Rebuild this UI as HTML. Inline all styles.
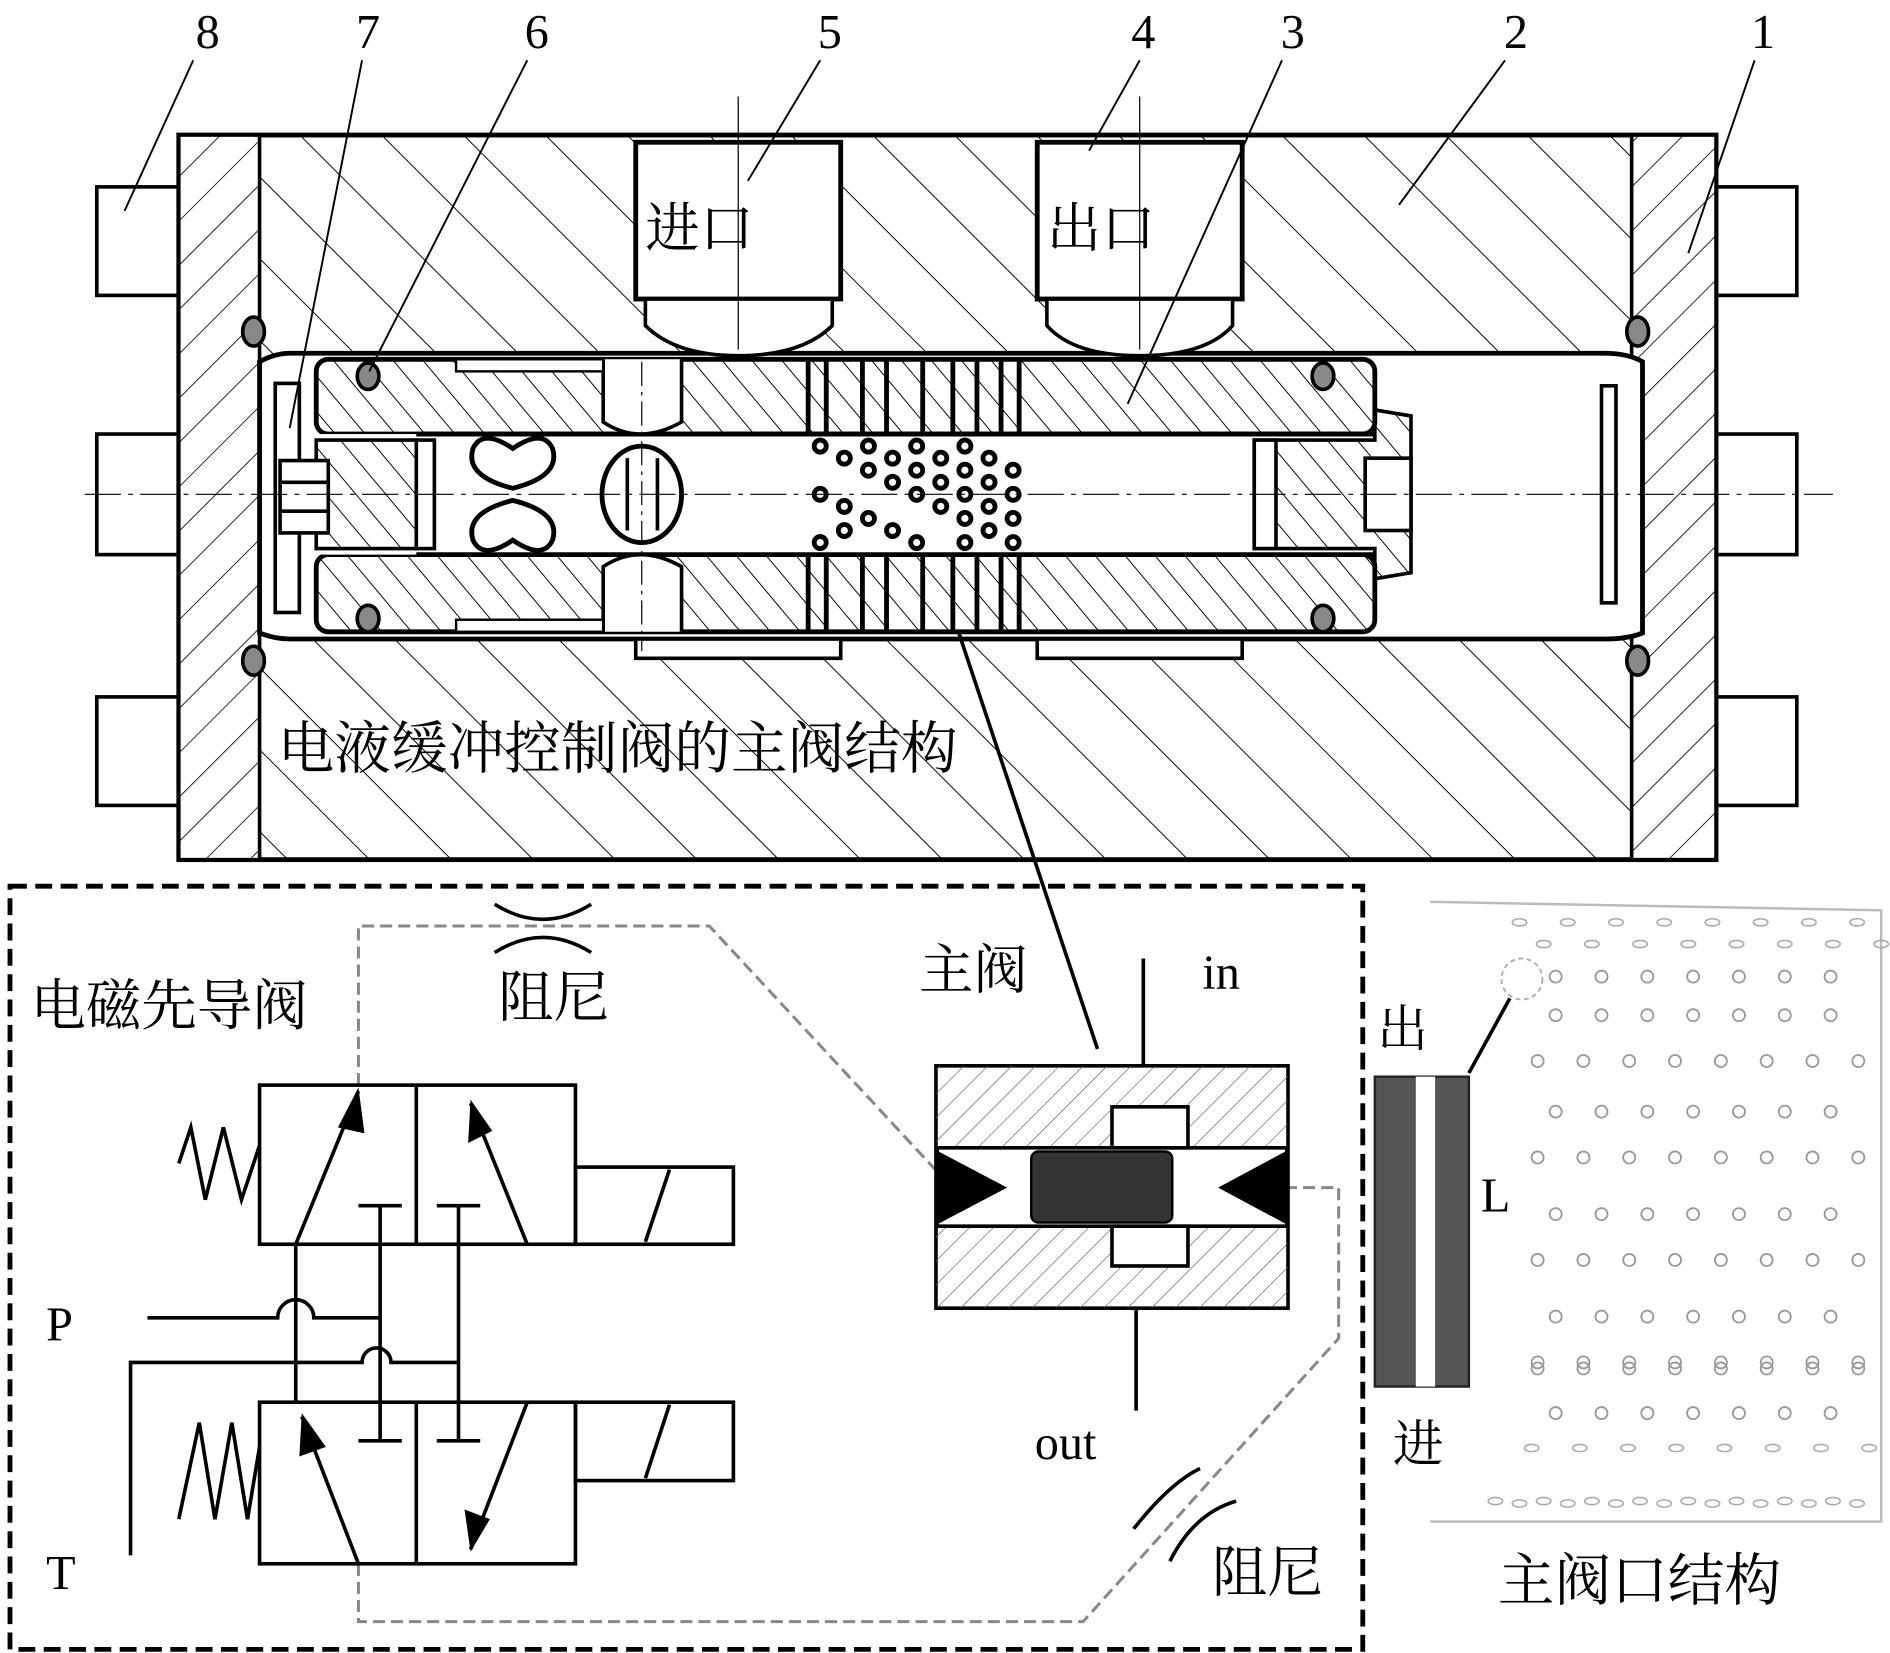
<!DOCTYPE html>
<html><head><meta charset="utf-8"><style>
html,body{margin:0;padding:0;background:#fff}
svg{display:block}
text{font-family:"Liberation Serif","Noto Serif CJK SC","Noto Sans CJK SC",serif;fill:#000}
</style></head><body>
<svg width="1890" height="1653" viewBox="0 0 1567 1371" xmlns="http://www.w3.org/2000/svg">
<defs>
<pattern id="hb" patternUnits="userSpaceOnUse" width="48" height="48" patternTransform="rotate(-45)">
<line x1="0" y1="0" x2="0" y2="48" stroke="#000" stroke-width="1.6"/></pattern>
<pattern id="he" patternUnits="userSpaceOnUse" width="26" height="26" patternTransform="rotate(45)">
<line x1="0" y1="0" x2="0" y2="26" stroke="#000" stroke-width="1.4"/></pattern>
<pattern id="hs" patternUnits="userSpaceOnUse" width="19" height="19" patternTransform="rotate(-40)">
<line x1="0" y1="0" x2="0" y2="19" stroke="#000" stroke-width="1.6"/></pattern>
<pattern id="hv" patternUnits="userSpaceOnUse" width="14" height="14" patternTransform="rotate(45)">
<line x1="0" y1="0" x2="0" y2="14" stroke="#555" stroke-width="1"/></pattern>
</defs>
<rect width="1567" height="1371" fill="#fff"/>

<g fill="#fff" stroke="#000" stroke-width="3">
<rect x="80" y="155" width="68" height="90"/><rect x="80" y="360" width="68" height="100"/><rect x="80" y="578" width="68" height="90"/>
<rect x="1423" y="155" width="67" height="90"/><rect x="1423" y="360" width="67" height="100"/><rect x="1423" y="578" width="67" height="90"/>
</g>
<rect x="148" y="112" width="1275" height="601" fill="url(#hb)" stroke="#000" stroke-width="4"/>
<rect x="148" y="112" width="67" height="601" fill="#fff"/>
<rect x="148" y="112" width="67" height="601" fill="url(#he)" stroke="#000" stroke-width="3"/>
<rect x="1353" y="112" width="70" height="601" fill="#fff"/>
<rect x="1353" y="112" width="70" height="601" fill="url(#he)" stroke="#000" stroke-width="3"/>
<path d="M215 300 Q228 293 240 293 L1330 293 Q1350 293 1362 300 L1362 525 Q1350 530 1330 530 L240 530 Q228 530 215 525 Z" fill="#fff" stroke="#000" stroke-width="4"/>
<rect x="527" y="118" width="170" height="130" fill="#fff" stroke="#000" stroke-width="4"/>
<rect x="860" y="118" width="170" height="130" fill="#fff" stroke="#000" stroke-width="4"/>
<path d="M535 248 L535 270 Q560 295 612 295 Q665 295 690 270 L690 248 Z" fill="#fff" stroke="#000" stroke-width="3"/>
<path d="M868 248 L868 270 Q890 295 945 295 Q1000 295 1022 270 L1022 248 Z" fill="#fff" stroke="#000" stroke-width="3"/>
<rect x="527" y="530" width="170" height="16" fill="#fff" stroke="#000" stroke-width="3"/>
<rect x="860" y="530" width="170" height="16" fill="#fff" stroke="#000" stroke-width="3"/>
<rect x="262" y="298" width="878" height="62" rx="10" fill="#fff" stroke="#000" stroke-width="4"/>
<rect x="262" y="298" width="878" height="62" rx="10" fill="url(#hs)"/>
<rect x="262" y="460" width="878" height="64" rx="10" fill="#fff" stroke="#000" stroke-width="4"/>
<rect x="262" y="460" width="878" height="64" rx="10" fill="url(#hs)"/>
<rect x="265" y="360" width="872" height="100" fill="#fff"/>
<line x1="345" y1="360" x2="1140" y2="360" stroke="#000" stroke-width="4"/>
<line x1="345" y1="460" x2="1140" y2="460" stroke="#000" stroke-width="4"/>
<path d="M500 298 L500 350 Q530 370 565 350 L565 298" fill="#fff" stroke="#000" stroke-width="3"/>
<path d="M500 524 L500 470 Q530 450 565 470 L565 524" fill="#fff" stroke="#000" stroke-width="3"/>
<rect x="378" y="298" width="122" height="10" fill="#fff" stroke="#000" stroke-width="2"/>
<rect x="378" y="514" width="122" height="10" fill="#fff" stroke="#000" stroke-width="2"/>
<g stroke="#000" stroke-width="4">
<line x1="670" y1="298" x2="670" y2="360"/><line x1="685" y1="298" x2="685" y2="360"/><line x1="715" y1="298" x2="715" y2="360"/><line x1="735" y1="298" x2="735" y2="360"/><line x1="765" y1="298" x2="765" y2="360"/><line x1="790" y1="298" x2="790" y2="360"/><line x1="810" y1="298" x2="810" y2="360"/><line x1="830" y1="298" x2="830" y2="360"/><line x1="845" y1="298" x2="845" y2="360"/>
<line x1="670" y1="460" x2="670" y2="524"/><line x1="685" y1="460" x2="685" y2="524"/><line x1="715" y1="460" x2="715" y2="524"/><line x1="735" y1="460" x2="735" y2="524"/><line x1="765" y1="460" x2="765" y2="524"/><line x1="790" y1="460" x2="790" y2="524"/><line x1="810" y1="460" x2="810" y2="524"/><line x1="830" y1="460" x2="830" y2="524"/><line x1="845" y1="460" x2="845" y2="524"/>
</g>
<g fill="#fff" stroke="#000" stroke-width="4">
<circle cx="680" cy="370" r="5"/><circle cx="700" cy="380" r="5"/><circle cx="720" cy="390" r="5"/><circle cx="740" cy="400" r="5"/><circle cx="760" cy="410" r="5"/><circle cx="780" cy="420" r="5"/><circle cx="800" cy="430" r="5"/><circle cx="820" cy="440" r="5"/>
<circle cx="720" cy="370" r="5"/><circle cx="740" cy="380" r="5"/><circle cx="760" cy="390" r="5"/><circle cx="780" cy="400" r="5"/><circle cx="800" cy="410" r="5"/><circle cx="820" cy="420" r="5"/><circle cx="840" cy="430" r="5"/>
<circle cx="760" cy="370" r="5"/><circle cx="780" cy="380" r="5"/><circle cx="800" cy="390" r="5"/><circle cx="820" cy="400" r="5"/><circle cx="840" cy="410" r="5"/>
<circle cx="680" cy="410" r="5"/><circle cx="700" cy="420" r="5"/><circle cx="720" cy="430" r="5"/><circle cx="740" cy="440" r="5"/><circle cx="760" cy="450" r="5"/>
<circle cx="680" cy="450" r="5"/><circle cx="700" cy="440" r="5"/><circle cx="800" cy="370" r="5"/><circle cx="820" cy="380" r="5"/><circle cx="840" cy="390" r="5"/><circle cx="840" cy="450" r="5"/><circle cx="800" cy="450" r="5"/>
</g>
<rect x="228" y="318" width="20" height="190" fill="#fff" stroke="#000" stroke-width="3"/>
<path d="M262 365 L345 365 L345 455 L262 455 Z" fill="url(#hs)" stroke="#000" stroke-width="3"/>
<rect x="345" y="365" width="15" height="90" fill="#fff" stroke="#000" stroke-width="3"/>
<rect x="232" y="382" width="40" height="60" fill="#fff" stroke="#000" stroke-width="3"/>
<line x1="232" y1="400" x2="272" y2="400" stroke="#000" stroke-width="3"/><line x1="232" y1="424" x2="272" y2="424" stroke="#000" stroke-width="3"/>
<path d="M1040 365 L1140 365 L1140 340 L1170 345 L1170 475 L1140 480 L1140 455 L1040 455 Z" fill="url(#hs)" stroke="#000" stroke-width="3"/>
<rect x="1040" y="365" width="18" height="90" fill="#fff" stroke="#000" stroke-width="3"/>
<rect x="1132" y="380" width="38" height="60" fill="#fff" stroke="#000" stroke-width="3"/>
<rect x="1328" y="320" width="12" height="180" fill="#fff" stroke="#000" stroke-width="3"/>
<g fill="#fff" stroke="#000" stroke-width="4">
<path d="M392 372 Q400 355 425 372 Q450 355 458 372 Q465 395 425 405 Q385 395 392 372Z"/>
<path d="M392 448 Q400 465 425 448 Q450 465 458 448 Q465 425 425 415 Q385 425 392 448Z"/>
<ellipse cx="532" cy="410" rx="33" ry="40"/>
</g>
<line x1="520" y1="380" x2="520" y2="440" stroke="#000" stroke-width="3"/><line x1="545" y1="380" x2="545" y2="440" stroke="#000" stroke-width="3"/>
<g fill="#888" stroke="#000" stroke-width="3">
<ellipse cx="210" cy="275" rx="9" ry="12"/><ellipse cx="210" cy="548" rx="9" ry="12"/>
<ellipse cx="1358" cy="275" rx="9" ry="12"/><ellipse cx="1358" cy="548" rx="9" ry="12"/>
<ellipse cx="305" cy="312" rx="9" ry="11"/><ellipse cx="305" cy="513" rx="9" ry="11"/>
<ellipse cx="1097" cy="312" rx="9" ry="11"/><ellipse cx="1097" cy="513" rx="9" ry="11"/>
</g>
<line x1="70" y1="410" x2="1520" y2="410" stroke="#000" stroke-width="1" stroke-dasharray="30,6,4,6"/>
<line x1="612" y1="80" x2="612" y2="290" stroke="#000" stroke-width="1"/>
<line x1="945" y1="80" x2="945" y2="290" stroke="#000" stroke-width="1"/>
<line x1="532" y1="300" x2="532" y2="540" stroke="#000" stroke-width="1" stroke-dasharray="20,5,3,5"/>
<g font-size="40" text-anchor="middle">
<text x="172" y="40">8</text><text x="305" y="40">7</text><text x="445" y="40">6</text><text x="688" y="40">5</text><text x="948" y="40">4</text><text x="1072" y="40">3</text><text x="1257" y="40">2</text><text x="1462" y="40">1</text>
</g>
<g stroke="#000" stroke-width="1.6" fill="none">
<line x1="160" y1="50" x2="103" y2="175"/><line x1="300" y1="50" x2="240" y2="355"/><line x1="437" y1="50" x2="306" y2="308"/>
<line x1="680" y1="50" x2="620" y2="150"/><line x1="945" y1="50" x2="903" y2="125"/><line x1="1063" y1="50" x2="935" y2="335"/>
<line x1="1248" y1="50" x2="1160" y2="170"/><line x1="1455" y1="50" x2="1400" y2="210"/>
<line x1="795" y1="525" x2="910" y2="870" stroke-width="3"/>
</g>
<g font-size="45"><text x="535" y="205">进口</text><text x="868" y="205">出口</text></g>
<text x="230" y="637" font-size="47">电液缓冲控制阀的主阀结构</text>

<rect x="8" y="735" width="1122" height="633" fill="none" stroke="#000" stroke-width="4" stroke-dasharray="14,7"/>
<text x="25" y="850" font-size="46">电磁先导阀</text>
<text x="413" y="843" font-size="46">阻尼</text>
<text x="762" y="820" font-size="45">主阀</text>
<text x="997" y="820" font-size="40">in</text>
<text x="858" y="1210" font-size="40">out</text>
<text x="38" y="1112" font-size="40">P</text>
<text x="38" y="1318" font-size="40">T</text>
<text x="1005" y="1320" font-size="46">阻尼</text>
<text x="1142" y="868" font-size="42">出</text>
<text x="1228" y="1005" font-size="40">L</text>
<text x="1145" y="1122" font-size="40">d</text>
<text x="1155" y="1212" font-size="42">进</text>
<text x="1242" y="1327" font-size="47">主阀口结构</text>

<g fill="none" stroke="#000" stroke-width="3">
<path d="M410 750 Q450 775 490 750"/><path d="M410 790 Q450 765 490 790"/>
<path d="M940 1268 Q970 1230 995 1218"/><path d="M970 1295 Q990 1255 1025 1245"/>
</g>
<g fill="none" stroke="#888" stroke-width="2.5" stroke-dasharray="10,5">
<path d="M297 900 L297 768 L588 768 L780 975"/>
<path d="M297 1297 L297 1345 L898 1345 L1110 1110 L1110 985 L1068 985"/>
</g>
<g fill="none" stroke="#000" stroke-width="3">
<rect x="215" y="900" width="262" height="132"/><line x1="345" y1="900" x2="345" y2="1032"/>
<rect x="477" y="968" width="131" height="64"/><line x1="535" y1="1030" x2="555" y2="970"/>
<polyline points="215,950 200,995 185,935 170,995 158,935 148,965"/>
<line x1="245" y1="1032" x2="297" y2="905"/><line x1="437" y1="1032" x2="390" y2="915"/>
<line x1="297" y1="1000" x2="333" y2="1000"/><line x1="315" y1="1000" x2="315" y2="1195"/>
<line x1="362" y1="1000" x2="398" y2="1000"/><line x1="380" y1="1000" x2="380" y2="1195"/>
<rect x="215" y="1163" width="262" height="134"/><line x1="345" y1="1163" x2="345" y2="1297"/>
<rect x="477" y="1163" width="131" height="65"/><line x1="535" y1="1226" x2="555" y2="1165"/>
<polyline points="215,1200 205,1260 192,1180 178,1260 165,1180 148,1260"/>
<line x1="297" y1="1297" x2="250" y2="1175"/><line x1="437" y1="1163" x2="390" y2="1285"/>
<line x1="297" y1="1195" x2="333" y2="1195"/><line x1="362" y1="1195" x2="398" y2="1195"/>
<line x1="245" y1="1032" x2="245" y2="1163"/>
<path d="M122 1093 L230 1093 A15 15 0 0 1 260 1093 L315 1093"/>
<path d="M108 1290 L108 1130 L300 1130 A12 12 0 0 1 324 1130 L380 1130"/>
</g>
<g fill="#000">
<polygon points="297,902 280,935 302,940"/><polygon points="390,912 388,948 408,938"/>
<polygon points="250,1172 248,1208 270,1200"/><polygon points="390,1287 385,1252 406,1260"/>
</g>
<rect x="776" y="884" width="292" height="201" fill="#fff" stroke="#000" stroke-width="3"/>
<rect x="776" y="884" width="292" height="201" fill="url(#hv)"/>
<rect x="777" y="952" width="290" height="65" fill="#fff" stroke="#000" stroke-width="3"/>
<rect x="922" y="918" width="63" height="34" fill="#fff" stroke="#000" stroke-width="3"/>
<rect x="922" y="1017" width="63" height="33" fill="#fff" stroke="#000" stroke-width="3"/>
<rect x="855" y="955" width="117" height="59" rx="6" fill="#333" stroke="#000" stroke-width="2"/>
<polygon points="778,955 835,985 778,1015" fill="#000"/>
<polygon points="1066,955 1010,985 1066,1015" fill="#000"/>
<line x1="948" y1="795" x2="948" y2="884" stroke="#000" stroke-width="3"/>
<line x1="942" y1="1085" x2="942" y2="1170" stroke="#000" stroke-width="3"/>
<rect x="1140" y="893" width="78" height="257" fill="#555" stroke="#222" stroke-width="2"/>
<rect x="1174" y="893" width="16" height="257" fill="#fff"/>
<line x1="1218" y1="890" x2="1252" y2="828" stroke="#000" stroke-width="3"/>
<circle cx="1262" cy="812" r="17" fill="none" stroke="#aaa" stroke-width="1.5" stroke-dasharray="4,3"/>
<path d="M1186 748 L1560 755 L1560 1262 L1186 1262" fill="none" stroke="#bbb" stroke-width="2"/>
<g fill="none" stroke="#999" stroke-width="1.5">
<g id="r1"><circle cx="1290" cy="842" r="5"/><circle cx="1328" cy="842" r="5"/><circle cx="1366" cy="842" r="5"/><circle cx="1404" cy="842" r="5"/><circle cx="1442" cy="842" r="5"/><circle cx="1480" cy="842" r="5"/><circle cx="1518" cy="842" r="5"/></g>
<g id="r2"><circle cx="1275" cy="880" r="5"/><circle cx="1313" cy="880" r="5"/><circle cx="1351" cy="880" r="5"/><circle cx="1389" cy="880" r="5"/><circle cx="1427" cy="880" r="5"/><circle cx="1465" cy="880" r="5"/><circle cx="1503" cy="880" r="5"/><circle cx="1541" cy="880" r="5"/></g>
<use href="#r1" y="80"/><use href="#r2" y="80"/><use href="#r1" y="165"/><use href="#r2" y="165"/><use href="#r1" y="250"/><use href="#r2" y="250"/><use href="#r1" y="330"/>
<use href="#r1" y="-32"/><use href="#r2" y="255"/>
</g>
<g fill="none" stroke="#aaa" stroke-width="1.3">
<g id="e1"><ellipse cx="1260" cy="765" rx="6" ry="3"/><ellipse cx="1300" cy="765" rx="6" ry="3"/><ellipse cx="1340" cy="765" rx="6" ry="3"/><ellipse cx="1380" cy="765" rx="6" ry="3"/><ellipse cx="1420" cy="765" rx="6" ry="3"/><ellipse cx="1460" cy="765" rx="6" ry="3"/><ellipse cx="1500" cy="765" rx="6" ry="3"/><ellipse cx="1540" cy="765" rx="6" ry="3"/></g>
<use href="#e1" x="20" y="18"/><use href="#e1" y="482"/><use href="#e1" x="-20" y="480"/><use href="#e1" x="10" y="436"/>
</g>
</svg>
</body></html>
